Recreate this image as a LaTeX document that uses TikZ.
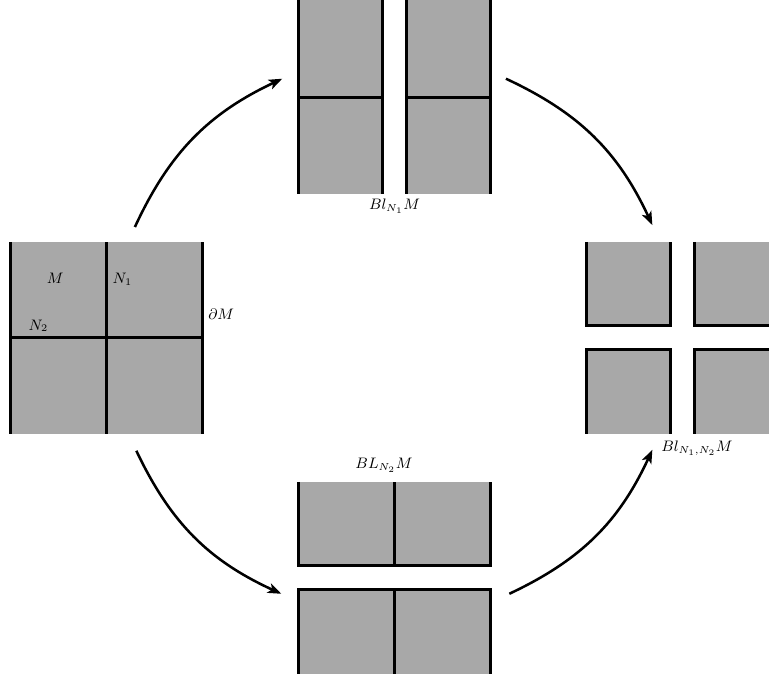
\documentclass[tikz,border=0pt]{standalone}
\usepackage{amsmath}
\usepackage{amssymb}
\usepackage{tikz}
\usetikzlibrary{arrows.meta,positioning}
\definecolor{piecegray}{RGB}{168,168,168}
\tikzset{
    %Define standard arrow tip
    >={Stealth[length=8pt,width=6pt,inset=2pt]},
    %Define style for grey pieces
    piece/.style={
           fill=piecegray,
           draw=none},
    %Define style for seams and cut edges
    seam/.style={
           draw=black,
           line width=1.8pt},
    %Define style for labels
    lbl/.style={
           font=\small,
           inner sep=1pt,
           text centered},
    % Define arrow style
    pil/.style={
           ->,
           line width=1.5pt,
           shorten <=0pt,
           shorten >=0pt,}
}
\begin{document}
\begin{tikzpicture}
\clip (-0.21,0) rectangle (15.81,14.04);
% M
\fill[piece] (0,5) rectangle (4,9);
\draw[seam] (0,5) -- (0,9) (2,5) -- (2,9) (4,5) -- (4,9) (0,7) -- (4,7);
\node[lbl](M) at (0.94,8.24){$M$};
\node[lbl](N1) at (2.34,8.22){$N_1$};
\node[lbl](N2) at (0.59,7.25){$N_2$};
\node[lbl](dM) at (4.40,7.50){$\partial M$};
% Bl_{N_1} M
\fill[piece] (6,10) rectangle (7.75,14.1);
\fill[piece] (8.25,10) rectangle (10,14.1);
\draw[seam] (6,10) -- (6,14.1) (7.75,10) -- (7.75,14.1) (6,12) -- (7.75,12);
\draw[seam] (8.25,10) -- (8.25,14.1) (10,10) -- (10,14.1) (8.25,12) -- (10,12);
\node[lbl](blN1) at (8.01,9.74){$Bl_{N_1}M$};
% Bl_{N_1,N_2} M
\fill[piece] (12,7.25) rectangle (13.75,9);
\fill[piece] (14.25,7.25) rectangle (16,9);
\fill[piece] (12,5) rectangle (13.75,6.75);
\fill[piece] (14.25,5) rectangle (16,6.75);
\draw[seam] (12,9) -- (12,7.25) -- (13.75,7.25) -- (13.75,9);
\draw[seam] (14.25,9) -- (14.25,7.25) -- (16,7.25) -- (16,9);
\draw[seam] (12,5) -- (12,6.75) -- (13.75,6.75) -- (13.75,5);
\draw[seam] (14.25,5) -- (14.25,6.75) -- (16,6.75) -- (16,5);
\node[lbl](blN12) at (14.31,4.70){$Bl_{N_1,N_2}M$};
% BL_{N_2} M
\fill[piece] (6,2.25) rectangle (10,4);
\fill[piece] (6,-0.1) rectangle (10,1.75);
\draw[seam] (6,4) -- (6,2.25) -- (10,2.25) -- (10,4) (8,2.25) -- (8,4);
\draw[seam] (6,-0.1) -- (6,1.75) -- (10,1.75) -- (10,-0.1) (8,-0.1) -- (8,1.75);
\node[lbl](blN2) at (7.79,4.34){$BL_{N_2}M$};
% arrows
\coordinate (m-up) at (2.60,9.31);
\coordinate (n1-in) at (5.67,12.40);
\coordinate (n1-out) at (10.33,12.40);
\coordinate (n12-up) at (13.38,9.35);
\coordinate (m-down) at (2.63,4.65);
\coordinate (n2-in) at (5.65,1.67);
\coordinate (n2-out) at (10.40,1.67);
\coordinate (n12-down) at (13.38,4.67);
\draw[pil] (m-up) to[bend left=20] (n1-in);
\draw[pil] (n1-out) to[bend left=20] (n12-up);
\draw[pil] (m-down) to[bend right=20] (n2-in);
\draw[pil] (n2-out) to[bend right=20] (n12-down);
\end{tikzpicture}
\end{document}
